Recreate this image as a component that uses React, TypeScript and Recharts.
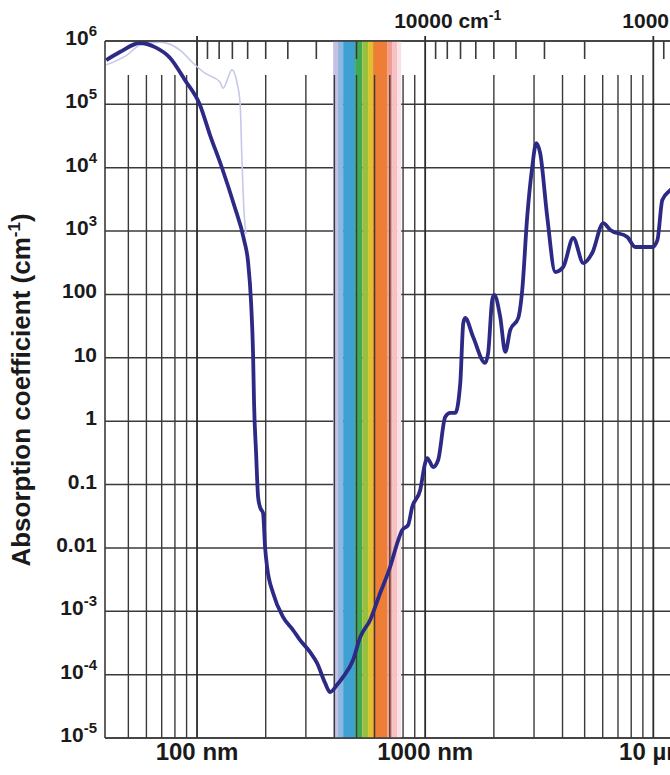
import React from 'react';
import { LineChart, Line, XAxis, YAxis, CartesianGrid, ReferenceLine, ReferenceArea } from 'recharts';

// water absorption, main curve (wavelength in nm, absorption in cm-1)
const mainWavelength = [
  40, 45.9, 56.2, 65.4, 76.2, 88.6, 103, 114, 128.7, 145.3, 160.8,
  167.4, 172.6, 176, 177.8, 181.5, 185.2, 188.8, 194.7, 198.7, 202.8,
  215.4, 238.4, 263.6, 283, 313, 336, 364, 383, 411, 437,
  483, 519, 574, 635, 702, 762, 793, 842, 877, 951,
  1000, 1021, 1084, 1140, 1224, 1288, 1355, 1425, 1469, 1497,
  1623, 1832, 1888, 1967, 2008, 2133, 2244, 2360, 2558, 2663,
  2800, 2946, 3069, 3192, 3428, 3717, 4027, 4457, 4932, 5397,
  6036, 6475, 7691, 8336, 9907, 10420, 10950, 11880, 13800,
];
const mainAbsorption = [
  5.0e5, 6.7e5, 9.3e5, 8.0e5, 5.4e5, 2.4e5, 9.8e4, 3.28e4, 9.9e3, 2.58e3, 723,
  325, 73, 11.9, 1.94, 0.314, 0.0635, 0.0442, 0.0355, 0.0103, 0.005,
  0.00194, 8.1e-4, 5.06e-4, 3.5e-4, 2.27e-4, 1.52e-4, 7.4e-5, 5.3e-5, 6.9e-5, 9.2e-5,
  1.7e-4, 3.9e-4, 7.3e-4, 1.94e-3, 5.0e-3, 0.0133, 0.0191, 0.023, 0.0442, 0.082,
  0.219, 0.262, 0.189, 0.244, 1.16, 1.35, 1.35, 4.0, 35.4, 42.5,
  21.3, 8.3, 11.9, 81.7, 98, 44, 12.4, 27.5, 42.5, 117,
  1670, 1.03e4, 2.45e4, 1.7e4, 1670, 226, 271, 778, 313, 451,
  1340, 1040, 807, 561, 561, 723, 3100, 4450, 6400,
];

// pale second curve in the far UV
const uvWavelength = [40, 49.3, 56.2, 68.8, 84.2, 96, 108.4, 126.1, 130, 142.4, 149.7, 154.4, 157.5, 160.8, 164];
const uvAbsorption = [4.2e5, 6.0e5, 8.6e5, 9.6e5, 7.2e5, 4.5e5, 3.1e5, 2.25e5, 1.8e5, 3.5e5, 2.2e5, 1.05e5, 1.19e4, 1.93e3, 900];

const yTicks = [1e-5, 1e-4, 1e-3, 0.01, 0.1, 1, 10, 100, 1e3, 1e4, 1e5, 1e6];
const yTickLabels = ['10|-5', '10|-4', '10|-3', '0.01', '0.1', '1', '10', '100', '10|3', '10|4', '10|5', '10|6'];

const nmTicks = [100, 1000, 10000];
const nmTickLabels = ['100 nm', '1000 nm', '10 µm'];

// wavenumber labels on top (cm-1), placed at 1e7 / k nm
const kLabelValues = [10000, 1000];
const kLabels = ['10000', '1000'];

const majorLines = [100, 1000, 10000];
const minorLines = [50, 60, 70, 80, 90, 200, 300, 400, 500, 600, 700, 800, 900, 2000, 3000, 4000, 5000, 6000, 7000, 8000, 9000];
const kMinorTicks = [90000, 80000, 70000, 60000, 50000, 40000, 30000, 20000, 9000, 8000, 7000, 6000, 5000, 4000, 3000, 2000, 900];

// visible band, nm
const bandFrom = [395, 415, 437, 493, 530, 562, 591, 681, 716, 753];
const bandTo = [415, 437, 493, 530, 562, 591, 681, 716, 753, 785];
const bandColors = ['#c6c0e6', '#8cb8e0', '#3ea1d2', '#40aa52', '#98bf3e', '#dcc22e', '#ee7d36', '#f29c8e', '#f6c0c7', '#fbe0e4'];

const mainData = mainWavelength.map((nm, i) => ({ nm, a: mainAbsorption[i] }));
const uvData = uvWavelength.map((nm, i) => ({ nm, a: uvAbsorption[i] }));

const FONT = '"Liberation Sans", Arial, sans-serif';
const GRID = '#3a3a3a';
const INK = '#1a1a1a';

const YTick = (props: any) => {
  const { x, y, payload } = props;
  const i = yTicks.findIndex((t) => Math.abs(Math.log10(t) - Math.log10(payload.value)) < 1e-6);
  if (i < 0) return null;
  const [base, exp] = yTickLabels[i].split('|');
  return (
    <text x={x} y={y} dy={4} textAnchor="end" fontFamily={FONT} fontSize={21} fontWeight="bold" fill={INK}>
      {base}
      {exp && <tspan dy={-9} fontSize={15}>{exp}</tspan>}
    </text>
  );
};

const BottomTick = (props: any) => {
  const { x, y, payload } = props;
  const i = nmTicks.indexOf(payload.value);
  return (
    <text x={x} y={y} dy={14} textAnchor="middle" fontFamily={FONT} fontSize={24} fontWeight="bold" fill={INK}>
      {nmTickLabels[i]}
    </text>
  );
};

const TopTick = (props: any) => {
  const { x, y, payload } = props;
  const i = kLabelValues.findIndex((k) => Math.abs(1e7 / k - payload.value) < 1e-6);
  if (i < 0) return null;
  return (
    <text x={x - 31} y={y} dy={-5} textAnchor="start" fontFamily={FONT} fontSize={21} fontWeight="bold" fill={INK}>
      {kLabels[i]} cm
      <tspan dy={-8} fontSize={14}>-1</tspan>
    </text>
  );
};

const YLabel = () => (
  <text transform="translate(30,390) rotate(-90)" textAnchor="middle" fontFamily={FONT} fontSize={26} fontWeight="bold" fill={INK}>
    Absorption coefficient (cm
    <tspan dy={-10} fontSize={17}>-1</tspan>
    <tspan dy={10}>)</tspan>
  </text>
);

const vLine = (offset: number, stroke: string, width: number) => (p: any) => {
  const top = Math.min(p.y1, p.y2);
  const bottom = Math.max(p.y1, p.y2);
  return <line x1={p.x1} x2={p.x2} y1={top + offset} y2={bottom} stroke={stroke} strokeWidth={width} />;
};

const topTick = (p: any) => {
  const top = Math.min(p.y1, p.y2);
  return <line x1={p.x1} x2={p.x2} y1={top} y2={top + 18} stroke={GRID} strokeWidth={1.6} />;
};

export default function App() {
  return (
    <div style={{ position: 'absolute', left: 0, top: 0, width: 670, height: 775, overflow: 'hidden', background: '#fff' }}>
      <LineChart width={730} height={775} margin={{ top: 0, right: 8, bottom: 0, left: 0 }}>
        <XAxis
          dataKey="nm"
          type="number"
          scale="log"
          domain={[39.5, 20000]}
          allowDataOverflow
          ticks={nmTicks}
          interval={0}
          height={37}
          tickLine={false}
          axisLine={{ stroke: GRID, strokeWidth: 1.6 }}
          tick={<BottomTick />}
        />
        <XAxis
          xAxisId="top"
          orientation="top"
          dataKey="nm"
          type="number"
          scale="log"
          domain={[39.5, 20000]}
          allowDataOverflow
          ticks={kLabelValues.map((k) => 1e7 / k)}
          interval={0}
          height={41}
          tickLine={false}
          axisLine={{ stroke: GRID, strokeWidth: 1.6 }}
          tick={<TopTick />}
        />
        <YAxis
          type="number"
          scale="log"
          domain={[1e-5, 1e6]}
          allowDataOverflow
          ticks={yTicks}
          interval={0}
          width={105}
          tickLine={false}
          axisLine={{ stroke: GRID, strokeWidth: 1.6 }}
          tick={<YTick />}
          label={<YLabel />}
        />
        {bandFrom.map((from, i) => (
          <ReferenceArea key={`band-${i}`} x1={from} x2={bandTo[i]} fill={bandColors[i]} fillOpacity={1} stroke="none" ifOverflow="hidden" />
        ))}
        <CartesianGrid vertical={false} stroke={GRID} strokeWidth={1.5} />
        {minorLines.map((nm) => (
          <ReferenceLine key={`minor-${nm}`} x={nm} shape={vLine(34, GRID, 1.4)} />
        ))}
        {majorLines.map((nm) => (
          <ReferenceLine key={`major-${nm}`} x={nm} shape={vLine(-5, '#2a2a2a', 1.8)} />
        ))}
        {kMinorTicks.map((k) => (
          <ReferenceLine key={`k-${k}`} x={1e7 / k} shape={topTick} />
        ))}
        <Line data={uvData} dataKey="a" type="monotone" stroke="#c6c8ea" strokeWidth={1.6} dot={false} activeDot={false} isAnimationActive={false} />
        <Line data={mainData} dataKey="a" type="monotone" stroke="#2d2a86" strokeWidth={3.8} dot={false} activeDot={false} isAnimationActive={false} />
      </LineChart>
    </div>
  );
}
